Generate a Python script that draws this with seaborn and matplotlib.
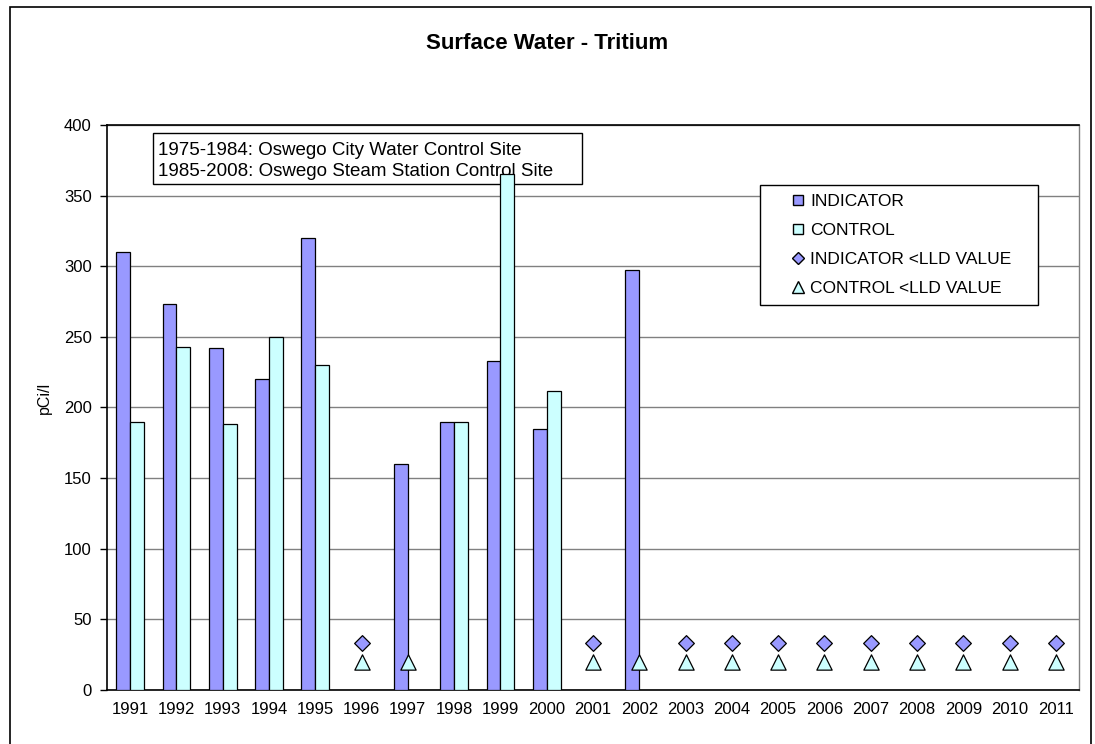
import numpy as np
import pandas as pd
import matplotlib
matplotlib.use("Agg")
import matplotlib.pyplot as plt
from matplotlib.lines import Line2D
from matplotlib.patches import Rectangle
import seaborn as sns

years = [str(y) for y in range(1991, 2012)]
indicator = [310, 273, 242, 220, 320, np.nan, 160, 190, 233, 185, np.nan, 297,
             np.nan, np.nan, np.nan, np.nan, np.nan, np.nan, np.nan, np.nan, np.nan]
control = [190, 243, 188, 250, 230, np.nan, np.nan, 190, 365, 212, np.nan, np.nan,
           np.nan, np.nan, np.nan, np.nan, np.nan, np.nan, np.nan, np.nan, np.nan]
indicator_lld = [np.nan, np.nan, np.nan, np.nan, np.nan, 33, np.nan, np.nan, np.nan, np.nan, 33, np.nan,
                 33, 33, 33, 33, 33, 33, 33, 33, 33]
control_lld = [np.nan, np.nan, np.nan, np.nan, np.nan, 20, 20, np.nan, np.nan, np.nan, 20, 20,
               20, 20, 20, 20, 20, 20, 20, 20, 20]

c_ind = "#9999FF"
c_ctl = "#CCFFFF"

bars = pd.DataFrame({
    "year": years * 2,
    "series": ["INDICATOR"] * len(years) + ["CONTROL"] * len(years),
    "value": indicator + control,
})
lld = pd.DataFrame({"year": years, "ind": indicator_lld, "ctl": control_lld})

sns.set_style("white")
plt.rcParams["font.family"] = ["Liberation Sans", "DejaVu Sans"]
plt.rcParams["text.color"] = "black"
plt.rcParams["axes.labelcolor"] = "black"
plt.rcParams["xtick.labelcolor"] = "black"
plt.rcParams["ytick.labelcolor"] = "black"

fig = plt.figure(figsize=(10.95, 7.44), dpi=100)
ax = fig.add_axes([0.0977, 0.0726, 0.8877, 0.7594])

sns.barplot(data=bars, x="year", y="value", hue="series", order=years,
            palette={"INDICATOR": c_ind, "CONTROL": c_ctl}, width=0.6, saturation=1,
            edgecolor="black", linewidth=0.9, errorbar=None, legend=False, ax=ax, zorder=3)
sns.stripplot(data=lld, x="year", y="ind", order=years, jitter=False, marker="D",
              color=c_ind, edgecolor="black", linewidth=0.9, size=8, ax=ax, zorder=4)
sns.stripplot(data=lld, x="year", y="ctl", order=years, jitter=False, marker="^",
              color=c_ctl, edgecolor="black", linewidth=0.9, size=11, ax=ax, zorder=4)

ax.set_xlim(-0.5, len(years) - 0.5)
ax.set_ylim(0, 400)
ax.set_yticks(range(0, 401, 50))
ax.yaxis.grid(True, color="#808080", linewidth=1.0)
ax.set_axisbelow(True)
ax.set_xlabel("")
ax.set_ylabel("pCi/l", fontsize=11.5)
ax.yaxis.set_label_coords(-0.0566, 0.517)

ax.set_xticks(range(len(years)))
ax.set_xticklabels(years)
ax.set_xticks(np.arange(-0.5, len(years), 1.0), minor=True)
ax.tick_params(axis="x", which="major", length=0, labelsize=12, pad=9)
ax.tick_params(axis="x", which="minor", length=5, width=1, direction="out", color="black")
ax.tick_params(axis="y", length=5, width=1, direction="out", color="black", labelsize=12, pad=6, left=True)

for side in ["left", "bottom", "top"]:
    ax.spines[side].set_color("black")
    ax.spines[side].set_linewidth(1.2)
ax.spines["right"].set_color("#808080")
ax.spines["right"].set_linewidth(1.0)

fig.text(0.5, 0.942, "Surface Water - Tritium", ha="center", va="center",
         fontsize=16, fontweight="bold")

# site note box (the tall 1999 bar is drawn over it)
ax.add_patch(Rectangle((0.0473, 0.8956), 0.441, 0.0903, transform=ax.transAxes,
                       facecolor="white", edgecolor="black", linewidth=1, zorder=2))
ax.text(0.0525, 0.97, "1975-1984: Oswego City Water Control Site\n1985-2008: Oswego Steam Station Control Site",
        transform=ax.transAxes, ha="left", va="top", fontsize=13.5, linespacing=1.32, zorder=2.5)

# legend
ax.add_patch(Rectangle((0.672, 0.681), 0.286, 0.212, transform=ax.transAxes,
                       facecolor="white", edgecolor="black", linewidth=1, zorder=5))
handles = [
    Line2D([], [], marker="s", linestyle="none", markerfacecolor=c_ind, markeredgecolor="black", markersize=7),
    Line2D([], [], marker="s", linestyle="none", markerfacecolor=c_ctl, markeredgecolor="black", markersize=7),
    Line2D([], [], marker="D", linestyle="none", markerfacecolor=c_ind, markeredgecolor="black", markersize=6),
    Line2D([], [], marker="^", linestyle="none", markerfacecolor=c_ctl, markeredgecolor="black", markersize=8),
]
labels = ["INDICATOR", "CONTROL", "INDICATOR <LLD VALUE", "CONTROL <LLD VALUE"]
leg = ax.legend(handles, labels, loc="upper left", bbox_to_anchor=(0.704, 0.878),
                frameon=False, fontsize=12.5, handlelength=0.8, handletextpad=0.3,
                labelspacing=0.8, borderpad=0, borderaxespad=0)
leg.set_zorder(7)

fig.patches.append(Rectangle((10 / 1095, -0.01), 1081 / 1095, 1.01 - 7 / 744, transform=fig.transFigure,
                             fill=False, edgecolor="black", linewidth=1.2))

fig.savefig("out.png", dpi=100)
